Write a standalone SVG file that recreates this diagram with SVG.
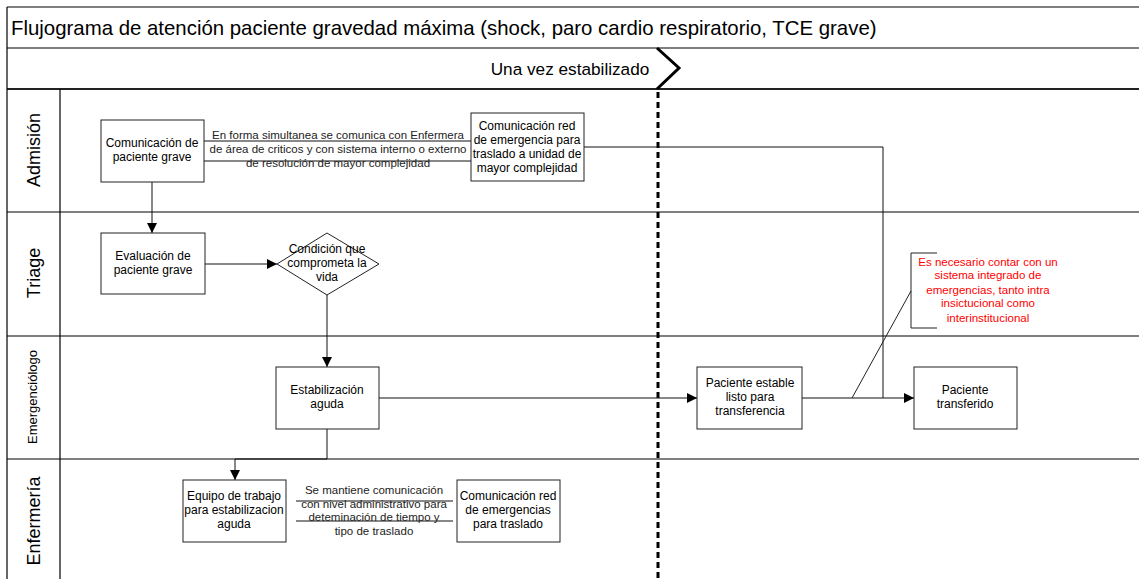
<svg xmlns="http://www.w3.org/2000/svg" width="1139" height="579" viewBox="0 0 1139 579">
  <style>
    .frame { stroke: #000; stroke-width: 1.2; fill: none; }
    .frame-b { stroke: #222; stroke-width: 2; fill: none; }
    .box { fill: #fff; stroke: #222; stroke-width: 1; }
    .conn { stroke: #111; stroke-width: 1; fill: none; }
    .note { stroke: #222; stroke-width: 1; fill: none; }
    .t { font-family: "Liberation Sans", Arial, sans-serif; fill: #000; text-anchor: middle; }
    .box-t { font-size: 12px; }
    .lbl-t { font-size: 11.5px; fill: #222; }
    .red-t { font-size: 11.5px; fill: #ff0000; }
    .lane-t { font-size: 18px; }
  </style>
  <defs>
    <marker id="arrow" viewBox="0 0 10 10" refX="10" refY="5" markerWidth="10" markerHeight="10" markerUnits="userSpaceOnUse" orient="auto">
      <path d="M0,0 L10,5 L0,10 z" fill="#000"/>
    </marker>
  </defs>

  <rect x="0" y="0" width="1139" height="579" fill="#fff"/>

  <!-- pool frame, header rows and lanes -->
  <g id="pool">
    <line class="frame" x1="7" y1="7" x2="1139" y2="7"/>
    <line class="frame" x1="7" y1="48" x2="1139" y2="48"/>
    <line class="frame-b" x1="7" y1="89" x2="1139" y2="89"/>
    <line class="frame" x1="7" y1="7" x2="7" y2="579"/>
    <line class="frame" x1="60" y1="89" x2="60" y2="579"/>
    <line class="frame" x1="7" y1="212" x2="1139" y2="212"/>
    <line class="frame" x1="7" y1="336" x2="1139" y2="336"/>
    <line class="frame" x1="7" y1="459" x2="1139" y2="459"/>
    <text class="t" x="11" y="35" font-size="20.4" style="text-anchor:start">Flujograma de atención paciente gravedad máxima (shock, paro cardio respiratorio, TCE grave)</text>
  </g>

  <!-- phase separator -->
  <g id="phase">
    <text class="t" x="570" y="75" font-size="17.2">Una vez estabilizado</text>
    <polyline points="657,48 679,68 657,89" fill="none" stroke="#000" stroke-width="3"/>
    <line x1="658" y1="92" x2="658" y2="579" stroke="#000" stroke-width="3" stroke-dasharray="6,4"/>
  </g>

  <!-- lane labels -->
  <g id="lane-admision"><text class="t lane-t" transform="translate(40,150) rotate(-90)">Admisión</text></g>
  <g id="lane-triage"><text class="t lane-t" transform="translate(40,273) rotate(-90)">Triage</text></g>
  <g id="lane-emergenciologo"><text class="t" font-size="13" transform="translate(37,397) rotate(-90)">Emergenciólogo</text></g>
  <g id="lane-enfermeria"><text class="t lane-t" transform="translate(40,521) rotate(-90)">Enfermería</text></g>

  <!-- connectors -->
  <g id="connectors">
    <line class="conn" x1="204" y1="141" x2="471" y2="141"/>
    <line class="conn" x1="204" y1="161" x2="471" y2="161"/>
    <polyline class="conn" points="584,147 883,147 883,398 914,398" marker-end="url(#arrow)"/>
    <line class="conn" x1="152" y1="182" x2="152" y2="233" marker-end="url(#arrow)"/>
    <line class="conn" x1="205" y1="264" x2="277" y2="264" marker-end="url(#arrow)"/>
    <line class="conn" x1="327" y1="295" x2="327" y2="367" marker-end="url(#arrow)"/>
    <line class="conn" x1="379" y1="398" x2="697" y2="398" marker-end="url(#arrow)"/>
    <line class="conn" x1="802" y1="398" x2="883" y2="398"/>
    <polyline class="conn" points="327,429 327,459 235,459 235,480" marker-end="url(#arrow)"/>
    <line class="conn" x1="296" y1="501" x2="453" y2="501"/>
    <line class="conn" x1="296" y1="521" x2="453" y2="521"/>
    <!-- connector labels -->
    <text class="t lbl-t" x="338" y="139">En forma simultanea se comunica con Enfermera</text>
    <text class="t lbl-t" x="338" y="153">de área de criticos y con sistema interno o externo</text>
    <text class="t lbl-t" x="338" y="167">de resolución de mayor complejidad</text>
    <text class="t lbl-t" x="374" y="494">Se mantiene comunicación</text>
    <text class="t lbl-t" x="374" y="508">con nivel administrativo para</text>
    <text class="t lbl-t" x="374" y="521">deteminación de tiempo y</text>
    <text class="t lbl-t" x="374" y="535">tipo de traslado</text>
  </g>

  <!-- nodes -->
  <g id="n-comunicacion-grave">
    <rect class="box" x="101" y="120" width="103" height="62"/>
    <text class="t box-t" x="152" y="147">Comunicación de</text>
    <text class="t box-t" x="152" y="161">paciente grave</text>
  </g>
  <g id="n-comunicacion-red">
    <rect class="box" x="471" y="113" width="113" height="68"/>
    <text class="t box-t" x="527" y="130">Comunicación red</text>
    <text class="t box-t" x="527" y="144">de emergencia para</text>
    <text class="t box-t" x="527" y="158">traslado a unidad de</text>
    <text class="t box-t" x="527" y="172">mayor complejidad</text>
  </g>
  <g id="n-evaluacion">
    <rect class="box" x="101" y="233" width="104" height="61"/>
    <text class="t box-t" x="153" y="260">Evaluación de</text>
    <text class="t box-t" x="153" y="274">paciente grave</text>
  </g>
  <g id="n-condicion">
    <polygon class="box" points="277,264 327,233 379,264 327,295"/>
    <text class="t box-t" x="327" y="253">Condición que</text>
    <text class="t box-t" x="327" y="267">comprometa la</text>
    <text class="t box-t" x="327" y="281">vida</text>
  </g>
  <g id="n-estabilizacion">
    <rect class="box" x="276" y="367" width="103" height="62"/>
    <text class="t box-t" x="327" y="394">Estabilización</text>
    <text class="t box-t" x="327" y="408">aguda</text>
  </g>
  <g id="n-paciente-estable">
    <rect class="box" x="697" y="367" width="105" height="62"/>
    <text class="t box-t" x="750" y="387">Paciente estable</text>
    <text class="t box-t" x="750" y="401">listo para</text>
    <text class="t box-t" x="750" y="415">transferencia</text>
  </g>
  <g id="n-paciente-transferido">
    <rect class="box" x="914" y="367" width="103" height="62"/>
    <text class="t box-t" x="965" y="394">Paciente</text>
    <text class="t box-t" x="965" y="408">transferido</text>
  </g>
  <g id="n-equipo">
    <rect class="box" x="183" y="480" width="103" height="62"/>
    <text class="t box-t" x="234" y="500">Equipo de trabajo</text>
    <text class="t box-t" x="234" y="514">para estabilizacion</text>
    <text class="t box-t" x="234" y="528">aguda</text>
  </g>
  <g id="n-comunicacion-red-enf">
    <rect class="box" x="457" y="480" width="103" height="62"/>
    <text class="t box-t" x="508" y="500">Comunicación red</text>
    <text class="t box-t" x="508" y="514">de emergencias</text>
    <text class="t box-t" x="508" y="528">para traslado</text>
  </g>

  <!-- annotation -->
  <g id="n-nota">
    <polyline class="note" points="937,253 911,253 911,328 937,328"/>
    <line class="note" x1="911" y1="291" x2="852" y2="398"/>
    <text class="t red-t" x="988" y="266">Es necesario contar con un</text>
    <text class="t red-t" x="988" y="279">sistema integrado de</text>
    <text class="t red-t" x="988" y="294">emergencias, tanto intra</text>
    <text class="t red-t" x="988" y="307">insictucional como</text>
    <text class="t red-t" x="988" y="322">interinstitucional</text>
  </g>
</svg>
